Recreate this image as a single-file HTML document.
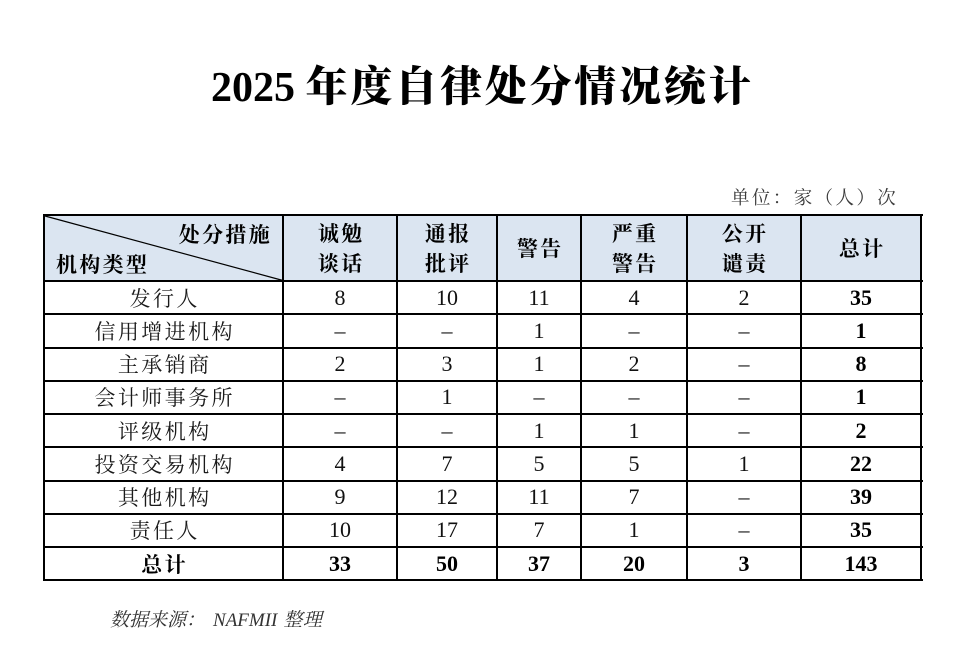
<!DOCTYPE html>
<html><head><meta charset="utf-8">
<style>
html,body{margin:0;padding:0;background:#fff;}
body{width:955px;height:653px;position:relative;overflow:hidden;font-family:"Liberation Serif","Noto Serif CJK SC",serif;color:#111;}
.a{position:absolute;}
.title{left:211px;top:58px;height:52px;line-height:52px;font-size:42px;font-weight:900;color:#000;white-space:nowrap;}
.title .n{font-family:"Liberation Serif",serif;font-weight:700;}
.title .z{font-family:"Noto Serif CJK SC",serif;font-weight:900;letter-spacing:2.8px;}
.unit{left:731px;top:185px;font-size:18.5px;line-height:24px;letter-spacing:2.4px;color:#3a3a3a;white-space:nowrap;font-family:"Noto Serif CJK SC",serif;}
.src{left:110px;top:607px;font-size:19px;line-height:24px;color:#333;font-style:italic;white-space:nowrap;font-family:"Liberation Serif","Noto Serif CJK SC",serif;}
.src .z{font-family:"Noto Serif CJK SC",serif;display:inline-block;}
.src .e{display:inline-block;}
.hbg{left:44px;top:215px;width:877px;height:66px;background:#dbe5f1;}
.h{position:absolute;background:#000;left:43px;width:880px;height:2px;}
.v{position:absolute;background:#000;top:214px;height:367px;width:2px;}
.c{position:absolute;display:flex;align-items:center;justify-content:center;text-align:center;white-space:nowrap;}
.hd{font-family:"Noto Serif CJK SC",serif;font-weight:700;font-size:21px;line-height:30px;letter-spacing:2.3px;color:#000;}
.hd span{display:block;padding-left:2.3px;}
.t{font-family:"Noto Serif CJK SC",serif;font-size:21px;letter-spacing:2.4px;padding-left:2.4px;box-sizing:border-box;color:#1a1a1a;}
.num{font-size:22px;color:#111;}
.b{font-weight:700;color:#000;}
.c0{left:44px;width:239px;}
.c1{left:283px;width:114px;}
.c2{left:397px;width:100px;}
.c3{left:497px;width:84px;}
.c4{left:581px;width:106px;}
.c5{left:687px;width:114px;}
.c6{left:801px;width:120px;}
.hr{top:215px;height:66px;}
.r1{top:281px;height:33px;}
.r2{top:314px;height:33.5px;}
.r3{top:347.5px;height:33px;}
.r4{top:380.5px;height:33.5px;}
.r5{top:414px;height:33px;}
.r6{top:447px;height:33.5px;}
.r7{top:480.5px;height:33px;}
.r8{top:513.5px;height:33.5px;}
.r9{top:547px;height:33px;}
</style></head><body>

<div class="a title"><span class="n">2025 </span><span class="z">年度自律处分情况统计</span></div>
<div class="a unit">单位：家（人）次</div>

<div class="a hbg"></div>
<svg class="a" style="left:0;top:0" width="955" height="653"><line x1="45" y1="216" x2="283" y2="280.5" stroke="#000" stroke-width="1.2"/></svg>

<!-- header -->
<div class="a hd" style="left:150px;width:122px;top:219px;height:30px;text-align:right;">处分措施</div>
<div class="a hd" style="left:56px;width:120px;top:249px;height:30px;text-align:left;">机构类型</div>
<div class="c hd c1 hr"><div><span>诚勉</span><span>谈话</span></div></div>
<div class="c hd c2 hr"><div><span>通报</span><span>批评</span></div></div>
<div class="c hd c3 hr"><div><span>警告</span></div></div>
<div class="c hd c4 hr"><div><span>严重</span><span>警告</span></div></div>
<div class="c hd c5 hr"><div><span>公开</span><span>谴责</span></div></div>
<div class="c hd c6 hr"><div><span>总计</span></div></div>

<!-- row 1 -->
<div class="c t c0 r1">发行人</div>
<div class="c num c1 r1">8</div><div class="c num c2 r1">10</div><div class="c num c3 r1">11</div><div class="c num c4 r1">4</div><div class="c num c5 r1">2</div><div class="c num b c6 r1">35</div>
<!-- row 2 -->
<div class="c t c0 r2">信用增进机构</div>
<div class="c num c1 r2">–</div><div class="c num c2 r2">–</div><div class="c num c3 r2">1</div><div class="c num c4 r2">–</div><div class="c num c5 r2">–</div><div class="c num b c6 r2">1</div>
<!-- row 3 -->
<div class="c t c0 r3">主承销商</div>
<div class="c num c1 r3">2</div><div class="c num c2 r3">3</div><div class="c num c3 r3">1</div><div class="c num c4 r3">2</div><div class="c num c5 r3">–</div><div class="c num b c6 r3">8</div>
<!-- row 4 -->
<div class="c t c0 r4">会计师事务所</div>
<div class="c num c1 r4">–</div><div class="c num c2 r4">1</div><div class="c num c3 r4">–</div><div class="c num c4 r4">–</div><div class="c num c5 r4">–</div><div class="c num b c6 r4">1</div>
<!-- row 5 -->
<div class="c t c0 r5">评级机构</div>
<div class="c num c1 r5">–</div><div class="c num c2 r5">–</div><div class="c num c3 r5">1</div><div class="c num c4 r5">1</div><div class="c num c5 r5">–</div><div class="c num b c6 r5">2</div>
<!-- row 6 -->
<div class="c t c0 r6">投资交易机构</div>
<div class="c num c1 r6">4</div><div class="c num c2 r6">7</div><div class="c num c3 r6">5</div><div class="c num c4 r6">5</div><div class="c num c5 r6">1</div><div class="c num b c6 r6">22</div>
<!-- row 7 -->
<div class="c t c0 r7">其他机构</div>
<div class="c num c1 r7">9</div><div class="c num c2 r7">12</div><div class="c num c3 r7">11</div><div class="c num c4 r7">7</div><div class="c num c5 r7">–</div><div class="c num b c6 r7">39</div>
<!-- row 8 -->
<div class="c t c0 r8">责任人</div>
<div class="c num c1 r8">10</div><div class="c num c2 r8">17</div><div class="c num c3 r8">7</div><div class="c num c4 r8">1</div><div class="c num c5 r8">–</div><div class="c num b c6 r8">35</div>
<!-- row 9 -->
<div class="c t b c0 r9" style="font-weight:700;color:#000;">总计</div>
<div class="c num b c1 r9">33</div><div class="c num b c2 r9">50</div><div class="c num b c3 r9">37</div><div class="c num b c4 r9">20</div><div class="c num b c5 r9">3</div><div class="c num b c6 r9">143</div>

<!-- grid lines -->
<div class="h" style="top:214px"></div>
<div class="h" style="top:279.5px"></div>
<div class="h" style="top:313px"></div>
<div class="h" style="top:346.5px"></div>
<div class="h" style="top:379.5px"></div>
<div class="h" style="top:413px"></div>
<div class="h" style="top:446px"></div>
<div class="h" style="top:479.5px"></div>
<div class="h" style="top:512.5px"></div>
<div class="h" style="top:546px"></div>
<div class="h" style="top:579px"></div>

<div class="v" style="left:43px"></div>
<div class="v" style="left:282px"></div>
<div class="v" style="left:396px"></div>
<div class="v" style="left:496px"></div>
<div class="v" style="left:580px"></div>
<div class="v" style="left:686px"></div>
<div class="v" style="left:800px"></div>
<div class="v" style="left:920px"></div>

<div class="a src"><span class="z">数据来源：</span><span class="e" style="margin-left:8px;">NAFMII</span><span class="z" style="margin-left:6px;letter-spacing:0.5px;">整理</span></div>

</body></html>
